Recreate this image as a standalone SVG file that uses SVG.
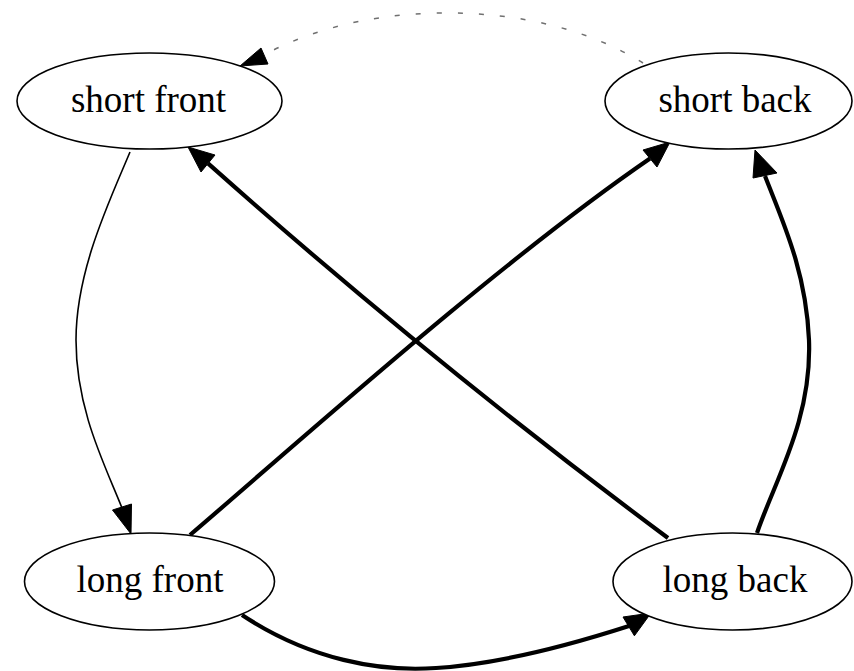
<svg xmlns="http://www.w3.org/2000/svg" width="854" height="671" viewBox="0 0 854 671">
<style>
.node ellipse{fill:#fff;stroke:#000;stroke-width:1.6}
.node text{font-family:"Liberation Serif","Times New Roman",serif;font-size:37px;text-anchor:middle;fill:#000}
.thin{fill:none;stroke:#000;stroke-width:1.6}
.thick{fill:none;stroke:#000;stroke-width:4.2}
.dash{fill:none;stroke:#707070;stroke-width:1.5;stroke-dasharray:5,16}
.head{fill:#000;stroke:#000;stroke-width:1}
</style>
<rect width="854" height="671" fill="#fff"/>
<g id="edges">
<path class="thin" d="M130,152 C110,200 76,270 76,340 C76,410 105,465 122,508"/>
<polygon class="head" points="131,534 112.5,510 131.5,504"/>
<path class="thick" d="M190,535 C292,448 495,265 650,158.5"/>
<polygon class="head" points="670,142 657,167 643,150"/>
<path class="thick" d="M668,538 C500,413 348,288 208,163.4"/>
<polygon class="head" points="188,147 215,155 201,172"/>
<path class="thick" d="M757,533 C775,480 812,420 809,340 C806,270 782,220 765,176"/>
<polygon class="head" points="755,150 777,173 753,178"/>
<path class="thick" d="M242,615 C310,660 380,672 436,668 C500,664 570,645 629,626"/>
<polygon class="head" points="651,613 634.4,635.8 623,617"/>
<path class="dash" d="M643,63 C590,30 520,12 440,13 C360,14 300,35 262,56"/>
<polygon class="head" points="240,66 261,48 268,64"/>
</g>
<g id="short-front" class="node">
<ellipse cx="149.5" cy="101" rx="132.5" ry="48"/>
<text x="148.5" y="112">short front</text>
</g>
<g id="short-back" class="node">
<ellipse cx="728.5" cy="101" rx="123.5" ry="48"/>
<text x="735" y="112">short back</text>
</g>
<g id="long-front" class="node">
<ellipse cx="149.5" cy="581.5" rx="125" ry="48.5"/>
<text x="150" y="592">long front</text>
</g>
<g id="long-back" class="node">
<ellipse cx="732.5" cy="581.5" rx="119.5" ry="48.5"/>
<text x="735" y="592">long back</text>
</g>
</svg>
